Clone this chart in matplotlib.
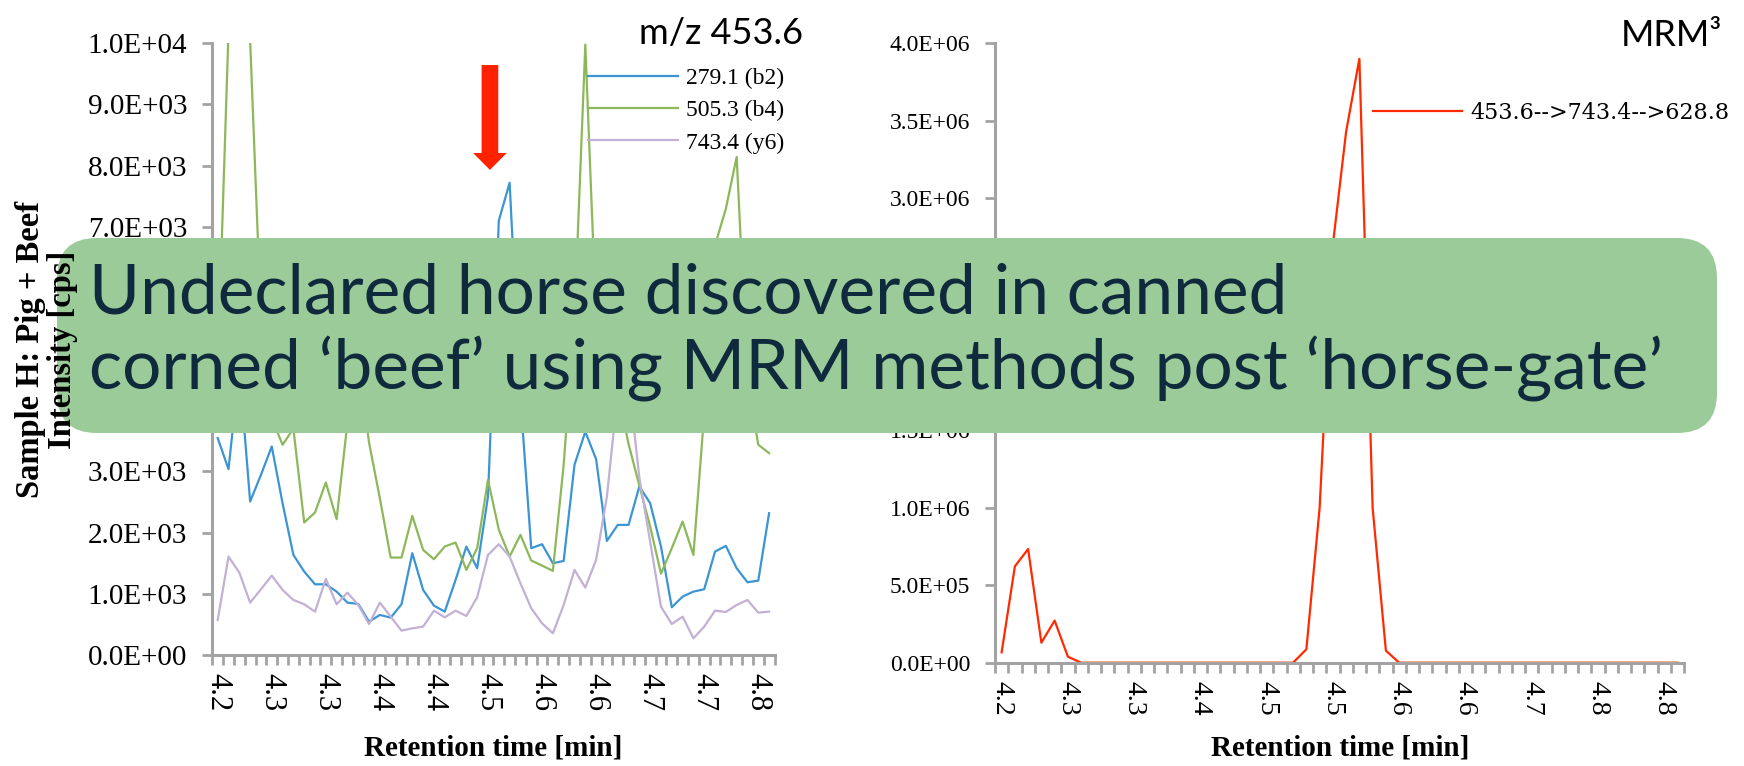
import matplotlib.pyplot as plt
import numpy as np
from matplotlib.patches import FancyBboxPatch
from matplotlib.ticker import FuncFormatter

# XIC of the three product ions of m/z 453.6 (sample H), one value per scan
blue_279 = [3546, 3038, 4700, 2509, 2945, 3409, 2480, 1636, 1364, 1156, 1156, 1036, 856,
            835, 545, 655, 611, 829, 1664, 1064, 807, 709, 1227, 1773, 1418, 2590,
            7100, 7720, 4200, 1746, 1811, 1500, 1538, 3109, 3650, 3202, 1866, 2127, 2127,
            2755, 2482, 1773, 780, 955, 1036, 1075, 1691, 1784, 1418, 1189, 1216, 2318]
green_505 = [4700, 10200, 14000, 10050, 5500, 3870, 3437, 3700, 2166, 2329, 2820, 2220, 3800,
             4800, 3470, 2560, 1593, 1593, 2275, 1718, 1566, 1773, 1838, 1391, 1745, 2864,
             2050, 1609, 1964, 1544, 1462, 1375, 3109, 5510, 9980, 5510, 4900, 4315, 3450,
             2770, 2100, 1330, 1746, 2182, 1636, 3950, 6700, 7295, 8142, 4500, 3437, 3300]
purple_743 = [573, 1609, 1347, 856, 1075, 1298, 1064, 900, 829, 709, 1244, 829, 1020,
              818, 507, 856, 627, 398, 436, 464, 725, 616, 725, 638, 944, 1636,
              1811, 1609, 1173, 764, 518, 355, 818, 1391, 1102, 1555, 2591, 4300, 4500,
              2900, 1850, 790, 507, 627, 273, 464, 725, 704, 818, 900, 693, 709]

# MRM3 trace 453.6 -> 743.4 -> 628.8
red_mrm3 = [67000, 622000, 734000, 129500, 272000, 38900, 0, 0, 0, 0, 0, 0, 0,
            0, 0, 0, 0, 0, 0, 0, 0, 0, 0, 87000, 1000000, 2700000,
            3430000, 3900000, 1000000, 78000, 0, 0, 0, 0, 0, 0, 0, 0, 0,
            0, 0, 0, 0, 0, 0, 0, 0, 0, 0, 0, 0, 0]

xic_labels = ['4.2', '4.3', '4.3', '4.4', '4.4', '4.5', '4.6', '4.6', '4.7', '4.7', '4.8']
mrm_labels = ['4.2', '4.3', '4.3', '4.4', '4.5', '4.5', '4.6', '4.6', '4.7', '4.8', '4.8']

W, H = 1744, 766
plt.rcParams['font.family'] = 'Liberation Serif'
GREY = '#a3a3a3'
SANS = 'Lato'

fig = plt.figure(figsize=(W / 100, H / 100), dpi=100)


def px_rect(x0, y0, x1, y1):
    # pixel box measured from the top-left corner -> figure fractions
    return [x0 / W, 1 - y1 / H, (x1 - x0) / W, (y1 - y0) / H]


def style_axes(ax, n, labels, ymax, ystep, ysize, xsize):
    ax.set_xlim(-0.5, n - 0.5)
    ax.set_ylim(0, ymax)
    for s in ['top', 'right']:
        ax.spines[s].set_visible(False)
    for s in ['left', 'bottom']:
        ax.spines[s].set_color(GREY)
        ax.spines[s].set_linewidth(2.2)
    ax.set_yticks(np.arange(0, ymax + ystep / 2, ystep))
    ax.yaxis.set_major_formatter(FuncFormatter(lambda v, p: f'{v:.1E}'))
    ax.tick_params(axis='y', length=7, width=2, color=GREY, pad=11, labelsize=ysize)
    ax.set_xticks(np.arange(-0.5, n, 1), minor=True)
    ax.set_xticks(np.arange(0, n, 5))
    ax.set_xticklabels(labels, rotation=-90)
    ax.tick_params(axis='x', which='major', length=0, pad=13, labelsize=xsize)
    ax.tick_params(axis='x', which='minor', length=7, width=2, color=GREY)


# left: product ion chromatograms
ax1 = fig.add_axes(px_rect(212.3, 43.3, 774.5, 655))
x1 = np.arange(len(blue_279))
ax1.plot(x1, blue_279, color='#3b95d4', lw=1.6, label='279.1 (b2)')
ax1.plot(x1, green_505, color='#8cb85a', lw=1.6, label='505.3 (b4)')
ax1.plot(x1, purple_743, color='#c2b0d5', lw=1.6, label='743.4 (y6)')
style_axes(ax1, len(x1), xic_labels, 10000, 1000, 21, 22)
ax1.legend(loc='upper left', bbox_to_anchor=(0.668, 0.96), frameon=False, fontsize=17,
           handlelength=3.8, handletextpad=0.35, labelspacing=0.45, borderpad=0,
           borderaxespad=0)
ax1.annotate('', xy=(25.18, 7930), xytext=(25.18, 9645),
             arrowprops=dict(arrowstyle='simple,head_length=1.22,head_width=2.42,tail_width=1.2',
                             mutation_scale=10, fc='#ff2200', ec='none',
                             shrinkA=0, shrinkB=0))

# right: MRM3 chromatogram
ax2 = fig.add_axes(px_rect(995, 43.3, 1684, 662.7))
x2 = np.arange(len(red_mrm3))
ax2.plot(x2, red_mrm3, color='#ff2a00', lw=1.6, label='453.6-->743.4-->628.8')
style_axes(ax2, len(x2), mrm_labels, 4000000, 500000, 17, 20)
ax2.legend(loc='upper left', bbox_to_anchor=(0.5486, 0.905), frameon=False,
           prop={'family': 'DejaVu Serif', 'size': 16},
           handlelength=4.0, handletextpad=0.4, borderpad=0, borderaxespad=0)

fig.text(803 / W, 1 - 44 / H, 'm/z 453.6', ha='right', va='baseline', family=SANS, fontsize=26)
fig.text(1722 / W, 1 - 46 / H, 'MRM³', ha='right', va='baseline', family=SANS, fontsize=26)

for cx in (493, 1340):
    fig.text(cx / W, 1 - 748 / H, 'Retention time [min]', ha='center', va='center',
             fontsize=21, fontweight='bold')
fig.text(30 / W, 1 - 349 / H, 'Sample H: Pig + Beef', rotation=90, ha='center', va='center',
         fontsize=23.5, fontweight='bold')
fig.text(62 / W, 1 - 350 / H, 'Intensity [cps]', rotation=90, ha='center', va='center',
         fontsize=23.5, fontweight='bold')

# headline banner laid over both panels, in pixel units
over = fig.add_axes([0, 0, 1, 1])
over.set_xlim(0, W)
over.set_ylim(H, 0)
over.axis('off')
over.add_patch(FancyBboxPatch((57, 238), 1660, 195, boxstyle='round,pad=0,rounding_size=40',
                              fc='#9acb98', ec='none'))
over.text(89, 314, 'Undeclared horse discovered in canned', family=SANS, fontsize=50,
          color='#0f2a3d', va='baseline')
over.text(89, 389, 'corned \u2018beef\u2019 using MRM methods post \u2018horse-gate\u2019',
          family=SANS, fontsize=50, color='#0f2a3d', va='baseline')

fig.savefig('out.png', dpi=100)
